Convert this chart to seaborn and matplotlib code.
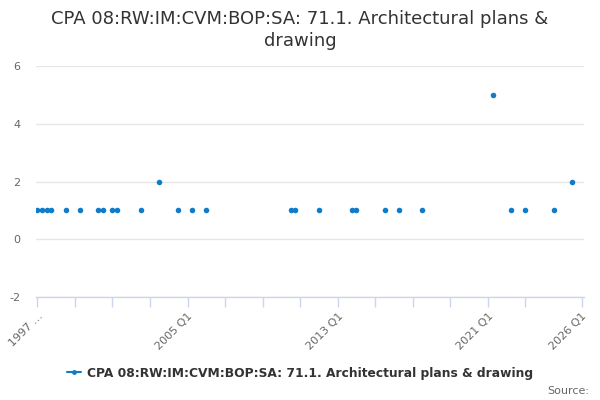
import matplotlib
matplotlib.use("Agg")
import matplotlib.pyplot as plt
import seaborn as sns
import pandas as pd
import numpy as np

# ---- data ----
title = "CPA 08:RW:IM:CVM:BOP:SA: 71.1. Architectural plans &\ndrawing"
series_name = "CPA 08:RW:IM:CVM:BOP:SA: 71.1. Architectural plans & drawing"

first_year, last_year = 1997, 2026
categories = [f"{y} Q{q}" for y in range(first_year, last_year + 1) for q in range(1, 5)]
categories = categories[:categories.index("2026 Q1") + 1]

obs_quarters = ["1997 Q1", "1997 Q2", "1997 Q3", "1997 Q4", "1998 Q3", "1999 Q2",
                "2000 Q2", "2000 Q3", "2001 Q1", "2001 Q2", "2002 Q3", "2003 Q3",
                "2004 Q3", "2005 Q2", "2006 Q1", "2010 Q3", "2010 Q4", "2012 Q1",
                "2013 Q4", "2014 Q1", "2015 Q3", "2016 Q2", "2017 Q3", "2021 Q2",
                "2022 Q2", "2023 Q1", "2024 Q3", "2025 Q3"]
obs_values = [1, 1, 1, 1, 1, 1,
              1, 1, 1, 1, 1, 2,
              1, 1, 1, 1, 1, 1,
              1, 1, 1, 1, 1, 5,
              1, 1, 1, 2]

tick_labels = {"1997 Q1": "1997 …", "2005 Q1": "2005 Q1", "2013 Q1": "2013 Q1",
               "2021 Q1": "2021 Q1", "2026 Q1": "2026 Q1"}
y_ticks = [-2, 0, 2, 4, 6]

# ---- build frame ----
pos = {c: i for i, c in enumerate(categories)}
df = pd.DataFrame({"x": [pos[q] for q in obs_quarters], "value": obs_values})
df = df.sort_values("x").reset_index(drop=True)
df["seg"] = (df["x"].diff() != 1).cumsum()
df["series"] = series_name

color = "#0f7cc9"
sns.set_theme(style="white")
plt.rcParams["font.family"] = ["DejaVu Sans"]

fig = plt.figure(figsize=(6, 4), dpi=100)
ax = fig.add_axes([36 / 600, 1 - 297 / 400, (584 - 36) / 600, (297 - 66) / 400])

sns.lineplot(data=df, x="x", y="value", units="seg", estimator=None,
             color=color, marker="o", markersize=4, markeredgewidth=0,
             linewidth=1.5, ax=ax, legend=False)

n = len(categories)
ax.set_xlim(-0.3, n - 0.5)
ax.set_ylim(-2, 6)
ax.set_yticks(y_ticks)
ax.set_yticklabels([str(v) for v in y_ticks])
ax.yaxis.grid(True, color="#e6e6e6", linewidth=1)
ax.set_axisbelow(True)

tick_pos = [i for i in range(0, n, 8) if i < n - 5] + [n - 1]
ax.set_xticks(tick_pos)
ax.set_xticklabels([tick_labels.get(categories[i], "") for i in tick_pos],
                   rotation=45, ha="right", rotation_mode="anchor")

for s in ["top", "right", "left"]:
    ax.spines[s].set_visible(False)
ax.spines["bottom"].set_color("#ccd6eb")
ax.spines["bottom"].set_linewidth(1)
ax.tick_params(axis="x", length=7, width=1, color="#ccd6eb", colors="#666666",
               labelsize=8, pad=3, direction="out", bottom=True)
ax.tick_params(axis="x", color="#ccd6eb")
ax.tick_params(axis="y", length=0, labelsize=8, labelcolor="#666666", pad=11)
ax.set_xlabel("")
ax.set_ylabel("")

fig.text(0.5, 1 - 10 / 400, title, ha="center", va="top", fontsize=13,
         color="#333333", linespacing=1.25)

handle = plt.Line2D([], [], color=color, marker="o", markersize=3.5,
                    markeredgewidth=0, linewidth=1.5)
fig.legend([handle], [series_name], loc="center", bbox_to_anchor=(0.5, 1 - 373 / 400),
           frameon=False, prop={"weight": "bold", "size": 8.8}, handlelength=1.2,
           handletextpad=0.5, labelcolor="#333333")

fig.text(1 - 11 / 600, 1 - 391 / 400, "Source:", ha="right", va="center",
         fontsize=8, color="#666666")

fig.savefig("out.png", dpi=100)
